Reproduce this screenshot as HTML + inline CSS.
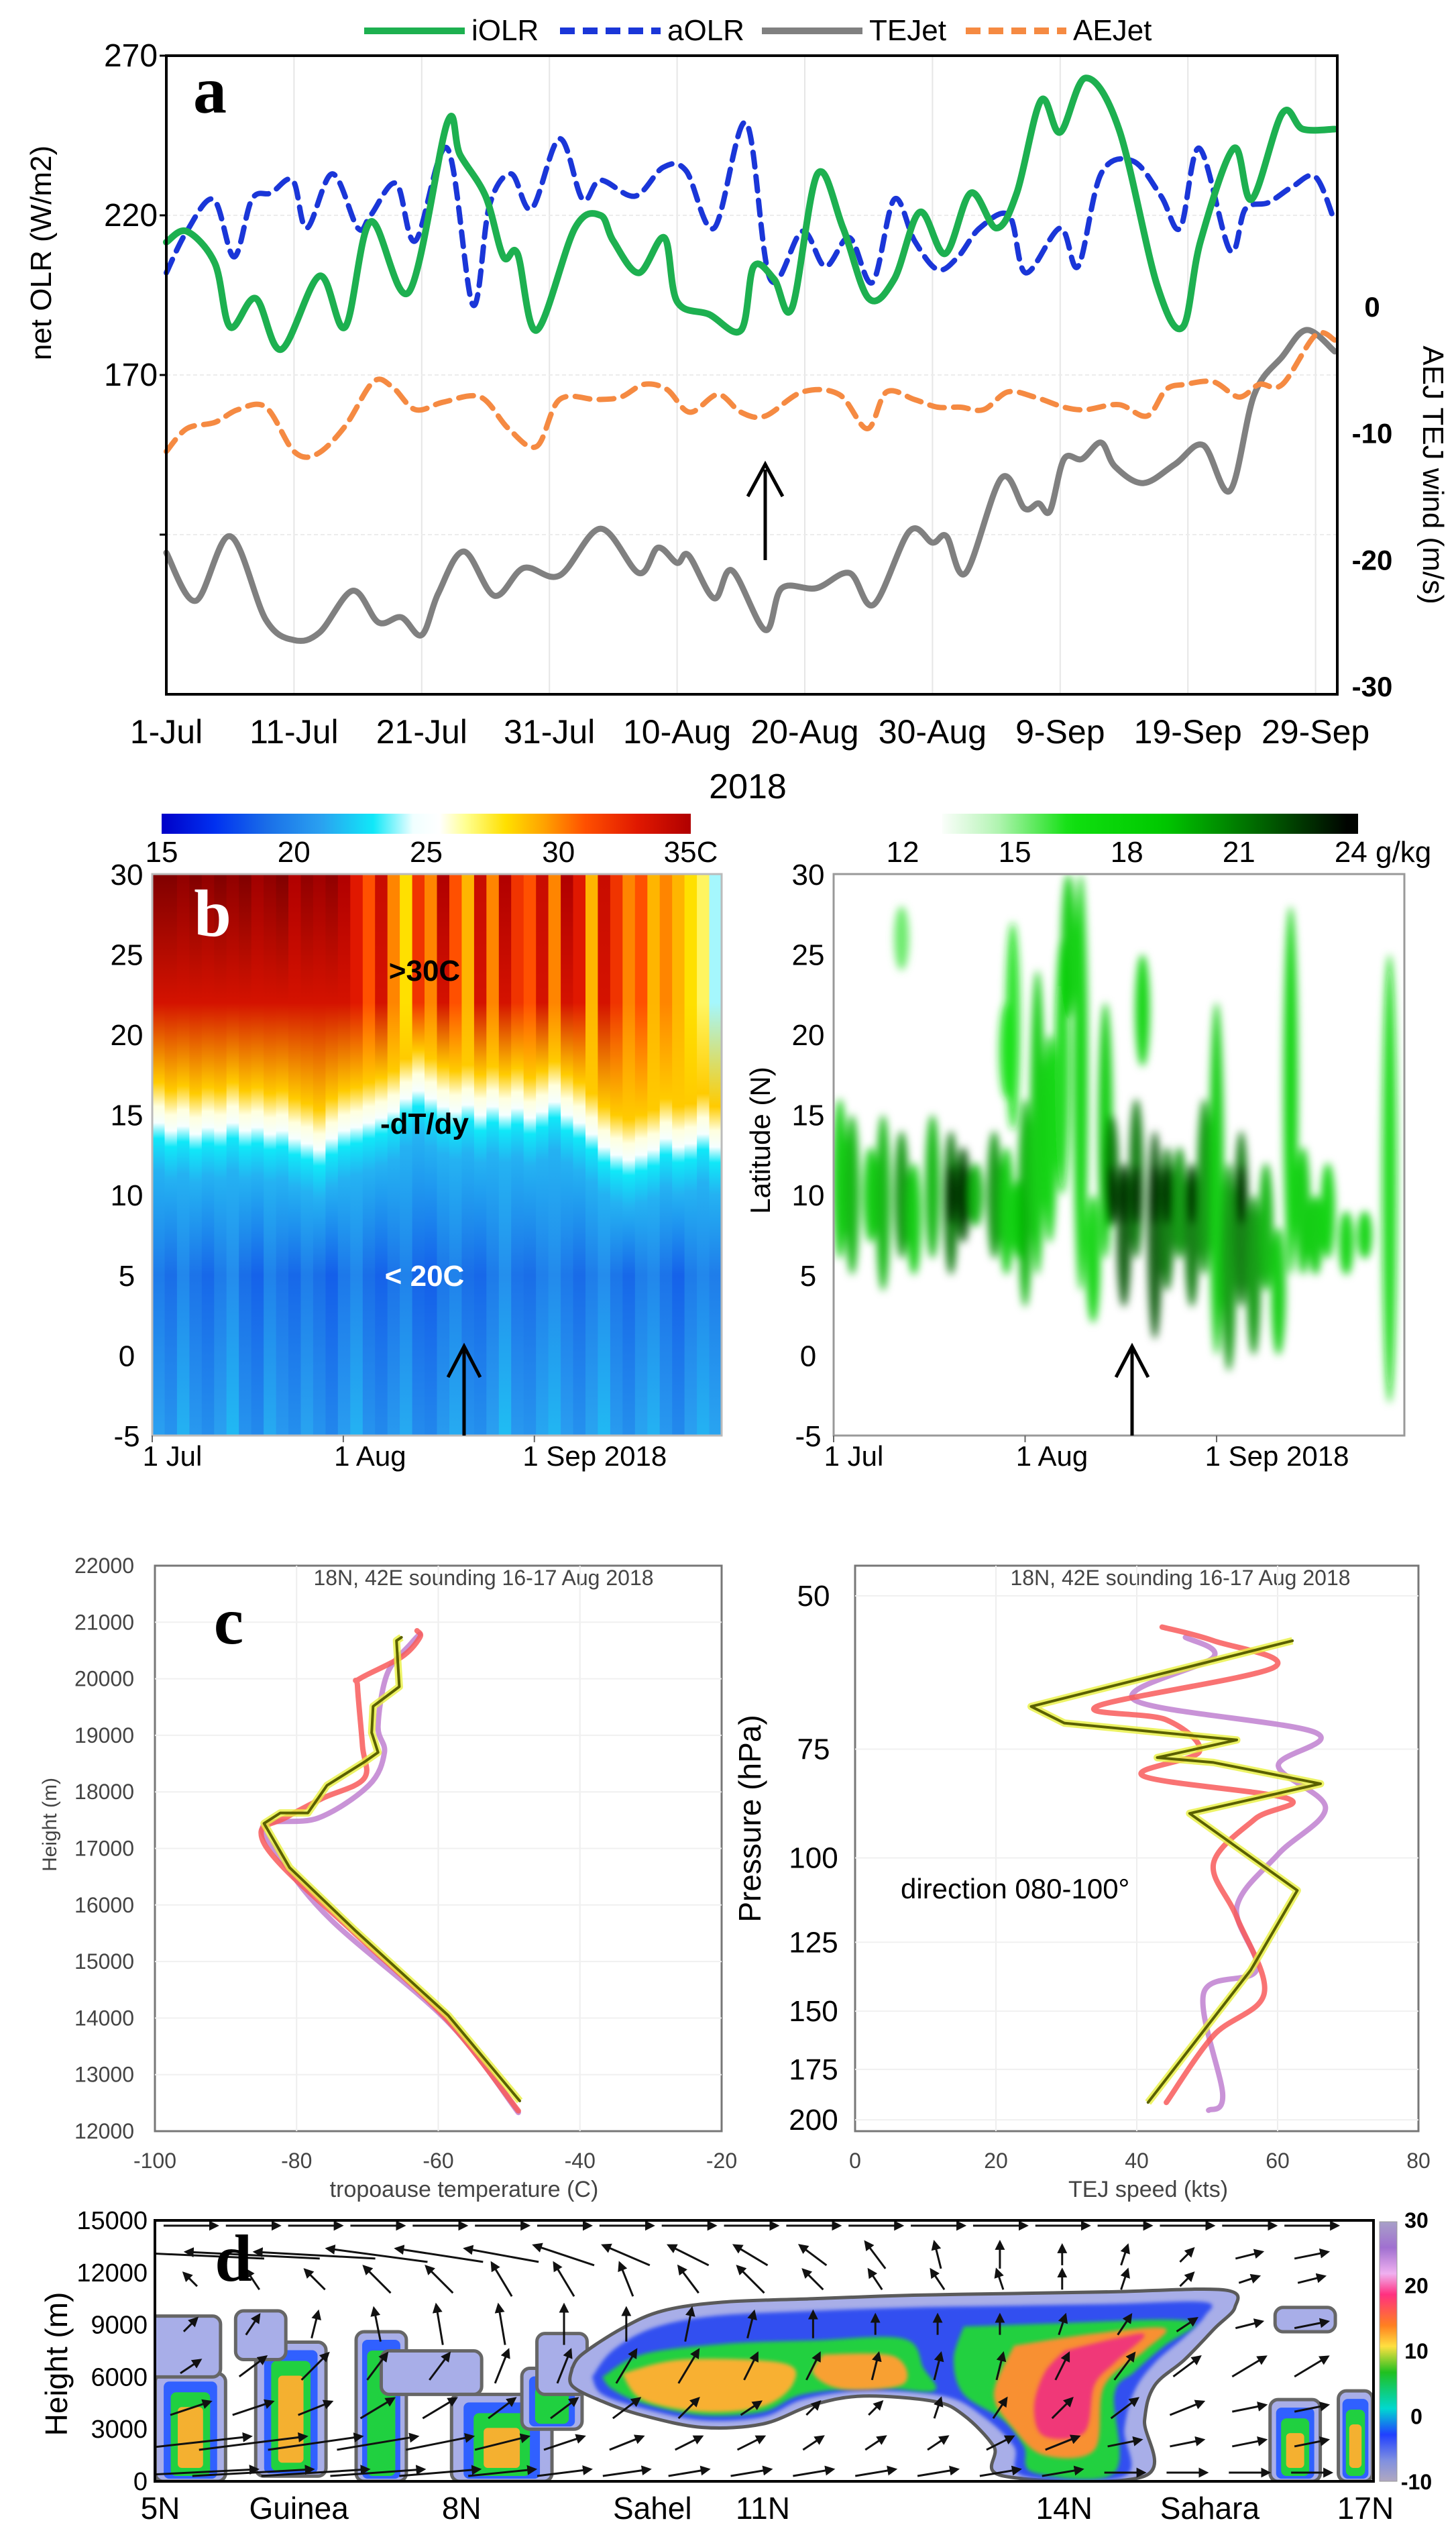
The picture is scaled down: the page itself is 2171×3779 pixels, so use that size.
<!DOCTYPE html>
<html><head><meta charset="utf-8">
<style>
html,body{margin:0;padding:0;background:#fff;}
svg{display:block;}
text{font-family:"Liberation Sans Narrow","Liberation Sans",sans-serif;}
</style></head>
<body>
<svg id="fig" xmlns="http://www.w3.org/2000/svg" width="2171" height="3779" viewBox="0 0 2171 3779">
<defs>
<filter id="blurG" x="-50%" y="-20%" width="200%" height="140%"><feGaussianBlur stdDeviation="6"/></filter>
<filter id="blurS" x="-20%" y="-20%" width="140%" height="140%"><feGaussianBlur stdDeviation="3"/></filter>
<marker id="ah" viewBox="0 0 10 10" refX="8" refY="5" markerWidth="5" markerHeight="5" orient="auto"><path d="M0,0 L10,5 L0,10 z" fill="#111"/></marker>
</defs>
</svg>
<script>
// ================= PANEL A DATA =================
const dateLabels = ['1-Jul','11-Jul','21-Jul','31-Jul','10-Aug','20-Aug','30-Aug','9-Sep','19-Sep','29-Sep'];
const dateDays = [0,10,20,30,40,50,60,70,80,90];
const leftTicks = [270,220,170,120];
const rightTicks = [0,-10,-20,-30];
const iolrDays = [0,1.6,3.8,5,7,9,12,14,16,19,22,23,25,26.4,27.5,29,32,34,35,37,39,40,42.5,45,46,47.6,49,51,53,55,57,59,61,63,65,66.6,68.5,70,72,74.6,77.6,79.6,81,83.6,85,87.4,89,91.5];
const iolrVals = [211.6,215,205,185,194,178,201,185,218,196,249,239,226,207,208,184,216,220,212,202,213,193,189,184,204,200,191,233,216,194,200,221,208,227,216,227,256,246,263,247,198,185,212,241,225,252,247,247];
const aolrDays = [0,1.6,3.7,5.3,6.7,8.2,9.9,11,13,15,16,18,19.5,22,24,25.3,27,28.6,30.8,32.6,34,36.7,38.9,40.7,42.9,45.4,47.3,49.8,51.6,53.5,55.3,57,58.6,60.4,62,63.7,66,67.3,70,71.4,73.2,75.7,77.9,79.4,80.9,83.3,84.5,86.3,88.2,90,91.5];
const aolrVals = [202,215,225,207,225,227,231,216,233,216,220,230,212,241,192,223,233,222,244,225,231,226,235,234,216,249,200,215,204,213,199,225,212,203,207,216,220,202,216,204,233,237,226,216,241,209,222,224,229,232,218];
const tejDays = [0,2.3,5,7.8,10,12,14.6,16.6,18.4,20,21.3,23.3,25.7,28,30.8,34,37,38.5,40,40.9,42.9,44.3,46.9,48.2,50.9,53.5,55.4,58.2,60,61.1,62.6,65.4,67.2,68.3,69.2,70.3,71.7,73.2,74.3,76.5,79,81.2,83.3,85.2,87.4,89.3,91.5];
const tejVals = [-19.5,-23.3,-18.2,-24.8,-26.4,-25.8,-22.5,-25,-24.6,-26,-22.7,-19.4,-22.9,-20.7,-21.3,-17.6,-21.1,-19.1,-20.3,-19.7,-23.1,-20.9,-25.6,-22.3,-22.3,-21.1,-23.6,-17.8,-18.7,-18.2,-21.1,-13.6,-16,-15.6,-16.2,-12.1,-12.1,-10.8,-12.7,-14,-12.5,-11,-14.6,-7,-4,-1.9,-3.6];
const aejDays = [0,1.6,3.8,5.6,7.8,10,11.8,14,16.2,17.7,19.5,21.7,24.6,26.8,29,30.8,33.7,35.6,37.4,39.2,41,43.2,45,46.9,49.8,52.7,54.9,56.4,58.6,60.4,62.2,64,65.9,68,70.3,72,74.6,76.8,78.3,79.8,82,84,85.6,87.4,90,91.5];
const aejVals = [-11.5,-9.7,-9.2,-8.2,-8,-11.5,-11.7,-9.5,-6,-6.4,-8.2,-7.6,-7.2,-9.7,-11.1,-7.4,-7.4,-7.2,-6.2,-6.6,-8.4,-7,-8.4,-8.7,-6.8,-7,-9.7,-6.8,-7.4,-8,-8,-8.2,-6.8,-7.2,-8,-8.2,-7.8,-8.7,-6.6,-6.2,-6,-7.2,-6.2,-6.2,-2.3,-2.7];

// ================= PANEL B DATA =================
const tempTicks = [15,20,25,30,35];
const qTicks = [12,15,18,21,24];
const latTicks = [30,25,20,15,10,5,0,-5];
const monthLabels = ['1 Jul','1 Aug','1 Sep 2018'];
const monthDays = [0,31,62];
const colTrans = [14.5,14,14.3,13.8,14.2,14,14.5,14,14.2,13.8,14,13.5,13.2,12.8,13.5,14,14.2,14.5,14.8,15.2,16,16.5,16,15.5,15.2,15.6,15,15.5,15,15.4,14.8,15.2,15.8,15,14.5,13.8,13,12.5,12.2,12.5,12.8,13.5,13,13.2,13.8,13];
const colTopT = [36.5,36.5,36,36.5,36,36.5,36,36.5,35.5,36,36.5,35,36,35.5,36,35,33,31,34,30,28,32,30,35,31,29,34,30,35,32,31,34,30,35,33,29,34,32,30,31,29,30,29,28,27,24];
const colLowT = [19.5,19,20,19.2,18.8,19.5,20.2,19,18.6,19.8,19.2,18.8,19.6,19,18.5,19.4,20,19,18.6,19.2,19.8,18.7,18.5,19.3,19.8,19,18.8,19.5,20.3,19.2,19,19.7,20.1,19.4,18.9,19.6,20.2,19.3,18.8,19.6,20,19.2,18.6,19.5,20,19.6];
const qDays = [1,3,6,8,11,13,16,19,21,23,26,28,30,28,29,31,33,35,37,38,40,42,44,45,47,49,50,52,54,56,58,60,62,64,66,68,70,72,74,76,78,80,83,86,90,11];
const qLo = [6,5,7,4,6,5,6,5,7,8,6,5,6,16,14,3,5,7,10,21,4,2,6,8,3,6,18,1,4,6,3,5,0,-1,3,0,4,0,5,5,5,6,5,6,-3,24];
const qHi = [16,15,13,15,14,12,15,14,13,12,14,13,11,22,27,16,24,20,26,30,30,10,22,15,12,16,25,14,13,13,12,16,22,12,14,10,12,8,28,13,10,12,9,9,25,28];
const qInt = [0.6,0.7,0.6,0.7,0.8,0.6,0.7,0.9,1.0,0.7,0.8,0.6,0.5,0.3,0.3,0.7,0.6,0.5,0.4,0.6,0.5,0.5,0.6,0.9,1.0,0.9,0.5,1.0,0.9,0.8,0.9,0.8,0.6,0.8,0.9,0.8,0.7,0.6,0.5,0.6,0.6,0.5,0.5,0.5,0.4,0.2];

// ================= PANEL C DATA =================
const hTicks = [22000,21000,20000,19000,18000,17000,16000,15000,14000,13000,12000];
const tTicks = [-100,-80,-60,-40,-20];
const pTicks = [50,75,100,125,150,175,200];
const sTicks = [0,20,40,60,80];
const oliveT = [-48.5,-58.6,-71.8,-81,-84.6,-82.3,-78.4,-75.7,-70.5,-68.5,-69.4,-69.2,-65.5,-65.9,-65.2];
const oliveH = [12535,14047,15558,16663,17442,17628,17628,18116,18523,18698,19047,19512,19860,20674,20733];
const redT = [-48.7,-58.9,-71.8,-82.3,-85,-81.7,-76.4,-70.5,-70.7,-71.4,-71.1,-65.2,-62.6,-63];
const redH = [12360,13990,15500,16720,17300,17535,17884,18233,18814,19860,20000,20384,20733,20849];
const pinkT = [-48.7,-58.6,-75.1,-82.3,-84.6,-77,-69.8,-67.6,-68.5,-67.2,-63.9,-62.6];
const pinkH = [12330,13930,15733,16837,17420,17535,18116,18698,19163,20093,20616,20790];
const oliveS = [62.1,25,29.7,54.2,42.9,50.9,66.1,47.5,62.8,56.2,41.6];
const oliveP = [56.3,67,70,73.2,76.7,77.7,82.2,88.9,109,134.5,191];
const redS = [43.6,50.9,59.5,34.3,44.2,48.9,40.9,61.5,56.8,50.9,54.2,58.1,50.9,44.2];
const redP = [54.3,56.3,60.4,67,69.4,75.5,80.5,85.5,90.2,101.5,117,143,160,191];
const pinkS = [46.9,50.9,39.6,65.4,60.1,66.8,60.1,54.2,57,49.5,52.2,50.2];
const pinkP = [55.8,58.8,65.8,71.8,78.4,87.6,99,114,134.5,143,187,195];

// ================= PANEL D DATA =================
const dHTicks = [15000,12000,9000,6000,3000,0];
const dXLabels = ['5N','Guinea','8N','Sahel','11N','14N','Sahara','17N'];
const dXLats = [5,6.38,8,9.9,11,14,15.45,17];
const dCbTicks = [30,20,10,0,-10];
const arrowRowsH = [14700,13000,11600,9000,6600,4200,2200,500];
const arrowU = [
 [8,8,8,8,8,8,8,8,8,8,8,8,8,8,8,8,8,8,8],
 [-22,-20,-18,-15,-13,-11,-9,-7,-6,-5,-4,-3,-1,0,0,1,2,4,5],
 [-2,-2,-3,-4,-4,-3,-3,-2,-3,-4,-3,-2,-2,-1,0,1,2,3,4],
 [2,2,1,-1,-1,-1,0,0,1,1,0,0,0,0,1,2,3,4,5],
 [3,4,4,3,3,2,2,3,3,2,2,1,1,1,2,3,4,5,5],
 [6,6,5,5,5,4,4,4,3,3,2,2,1,2,3,4,5,5,5],
 [18,16,14,12,10,8,6,5,4,4,3,3,3,4,5,5,5,5,5],
 [20,18,16,14,12,10,8,7,6,6,6,6,6,6,6,6,6,6,6]];
const arrowW = [
 [0,0,0,0,0,0,0,0,0,0,0,0,0,0,0,0,0,0,0],
 [1,1,1,2,2,2,3,3,3,3,3,4,4,4,3,3,2,1,1],
 [2,3,3,4,4,5,5,5,4,4,3,3,3,3,3,3,2,1,1],
 [2,3,4,5,6,6,6,5,5,4,4,3,3,3,3,3,2,1,1],
 [2,3,4,4,4,5,5,5,5,4,4,4,4,4,4,4,3,3,3],
 [2,2,2,3,3,3,3,3,3,2,2,2,3,3,3,3,2,1,1],
 [2,2,2,2,2,2,2,2,2,2,2,2,2,2,2,1,1,1,1],
 [1,1,1,1,1,1,1,1,1,1,1,1,1,1,1,0,0,0,0]];
const cloudOuter = [[9.1,6500],[9.2,7300],[9.6,8800],[10,9800],[10.6,10300],[11.5,10500],[12.5,10700],[13.5,10800],[14.5,10900],[15.6,11000],[15.7,10000],[15.5,8800],[15.2,7000],[14.9,5500],[14.8,3500],[14.8,300],[13.4,300],[13.3,2000],[13.0,3800],[12.7,4600],[12.0,4900],[11.5,4400],[11.0,3300],[10.4,3100],[9.8,3800],[9.4,4600],[9.1,5500]];
const cloudBlue = [[9.3,6000],[9.5,7500],[9.9,8800],[10.5,9500],[11.5,9800],[12.5,10000],[13.5,10100],[14.5,10200],[15.4,10300],[15.4,9500],[15.2,8300],[14.9,6800],[14.7,5200],[14.6,3000],[14.6,300],[13.6,300],[13.5,2000],[13.2,3700],[12.8,4900],[12,5200],[11.4,4700],[11,3700],[10.4,3500],[9.8,4200],[9.4,5000]];
const cloudGreenA = [[9.4,6000],[9.8,7300],[10.6,7900],[11.5,8100],[12.4,8200],[12.6,6500],[12.7,5200],[12.1,5400],[11.4,5000],[11,4000],[10.4,3800],[9.8,4500],[9.5,5300]];
const cloudGreenB = [[13.0,8900],[14,9100],[15,9300],[15.3,9000],[15,7800],[14.7,6300],[14.5,5000],[14.5,500],[13.7,500],[13.6,2000],[13.4,3500],[13.0,5000],[12.9,7000]];
const cloudOrangeA = [[9.6,6200],[10.2,7000],[11.2,6800],[11.3,5600],[11,4300],[10.4,4000],[9.8,4700]];
const cloudOrangeA2 = [[11.6,7300],[12.3,7200],[12.4,5600],[11.8,5300],[11.5,6200]];
const cloudOrangeB = [[13.5,7800],[14.3,8500],[15.0,8800],[14.8,7500],[14.4,5500],[14.3,1800],[13.8,1500],[13.5,3000],[13.3,5000]];
const cloudPinkB = [[14,7500],[14.5,8200],[14.8,8400],[14.5,6800],[14.3,5500],[14.2,2800],[13.8,2600],[13.7,4200],[13.8,6200]];
const cellLat = [5.3,5.1,6.3,6.0,7.2,7.7,8.4,8.9,9.0,16.3,16.9,16.4];
const cellHalf = [0.35,0.5,0.35,0.25,0.25,0.5,0.5,0.3,0.25,0.25,0.17,0.3];
const cellBot = [0,6000,300,7000,0,5000,0,3000,5000,0,0,8600];
const cellTop = [6200,9500,8000,9800,8600,7500,5000,6500,8500,4700,5200,10000];
const cellLvl = [0.8,0.15,0.9,0.2,0.6,0.2,0.9,0.5,0.2,0.7,0.8,0.15];

// ================= HELPERS =================
const svg = document.getElementById('fig');
const NS = 'http://www.w3.org/2000/svg';
function mk(tag, parent){ const e=document.createElementNS(NS,tag); (parent||svg).appendChild(e); return e; }
function set(e, obj){ for(const k in obj) e.setAttribute(k,obj[k]); return e; }
function txt(parent, s, x, y, size, opts){
  const t = mk('text', parent);
  set(t,{x:x,y:y,'font-size':size,'text-anchor':(opts&&opts.anchor)||'middle','fill':(opts&&opts.fill)||'#000'});
  if(opts&&opts.weight) t.setAttribute('font-weight',opts.weight);
  if(opts&&opts.family) t.setAttribute('style','font-family:'+opts.family);
  if(opts&&opts.rot) t.setAttribute('transform','rotate('+opts.rot+' '+x+' '+y+')');
  t.textContent = s; return t;
}
function smooth(pts){
  let d='M'+pts[0][0].toFixed(1)+','+pts[0][1].toFixed(1);
  for(let i=0;i<pts.length-1;i++){
    const p0=pts[Math.max(0,i-1)],p1=pts[i],p2=pts[i+1],p3=pts[Math.min(pts.length-1,i+2)];
    const c1=[p1[0]+(p2[0]-p0[0])/6,p1[1]+(p2[1]-p0[1])/6];
    const c2=[p2[0]-(p3[0]-p1[0])/6,p2[1]-(p3[1]-p1[1])/6];
    d+=' C'+c1[0].toFixed(1)+','+c1[1].toFixed(1)+' '+c2[0].toFixed(1)+','+c2[1].toFixed(1)+' '+p2[0].toFixed(1)+','+p2[1].toFixed(1);
  }
  return d;
}
function hex(c){return [parseInt(c.substr(1,2),16),parseInt(c.substr(3,2),16),parseInt(c.substr(5,2),16)];}
function interp(stops,v){
  if(v<=stops[0][0]) return stops[0][1];
  for(let i=0;i<stops.length-1;i++){
    if(v<=stops[i+1][0]){
      const f=(v-stops[i][0])/(stops[i+1][0]-stops[i][0]);
      const a=hex(stops[i][1]),b=hex(stops[i+1][1]);
      return 'rgb('+a.map((x,j)=>Math.round(x+(b[j]-x)*f)).join(',')+')';
    }
  }
  return stops[stops.length-1][1];
}
const tStops=[[15,'#0000c8'],[17,'#0030f0'],[19,'#1a6ee8'],[21,'#2aa0f0'],[23,'#10e8f8'],[24.5,'#f0ffff'],[25.5,'#ffffff'],[26.5,'#ffff90'],[28,'#ffe000'],[29.5,'#ffa000'],[31,'#ff5000'],[33,'#e01800'],[35,'#b00000'],[36.5,'#800000']];
const qStops=[[13,'#ffffff'],[14.5,'#b8f5b8'],[16.5,'#10e010'],[19,'#00c800'],[21.5,'#006800'],[24,'#000000']];

// ================= PANEL A =================
const gA = mk('g');  
const xA = d => 248 + d*19.04;
const yL = v => 83 + (270-v)*4.76;
const yR = v => 456 - v*18.87;
dateDays.forEach((d,i)=>{
  const l=set(mk('line',gA),{x1:xA(d),x2:xA(d),y1:83,y2:1035,stroke:'#e6e6e6','stroke-width':2});
   
  const t=txt(gA,dateLabels[i],xA(d),1108,50);
   
});
leftTicks.forEach(v=>{
  const l=set(mk('line',gA),{x1:248,x2:1994,y1:yL(v),y2:yL(v),stroke:'#ececec','stroke-width':2,'stroke-dasharray':'6,4'});
   
  const tk=set(mk('line',gA),{x1:238,x2:248,y1:yL(v),y2:yL(v),stroke:'#000','stroke-width':3});
   
  if(v!==120){ const t=txt(gA,String(v),195,yL(v)+16,48);   }
});
rightTicks.forEach(v=>{
  const t=txt(gA,String(v),2046,yR(v)+16,42,{weight:'bold'});
   
});
function series(days,vals,scale,color,w,dash,name){
  const p=set(mk('path',gA),{d:smooth(days.map((d,i)=>[xA(d),scale(vals[i])])),fill:'none',stroke:color,'stroke-width':w,'stroke-linejoin':'round','stroke-linecap':'round'});
  if(dash) p.setAttribute('stroke-dasharray',dash);
   
}
series(tejDays,tejVals,yR,'#808080',9,null,'tejet-line');
series(aejDays,aejVals,yR,'#f58a42',8,'22,14','aejet-line');
series(aolrDays,aolrVals,yL,'#1a36d8',8,'22,14','aolr-line');
series(iolrDays,iolrVals,yL,'#1db050',10,null,'iolr-line');
const frA=set(mk('rect',gA),{x:248,y:83,width:1746,height:952,fill:'none',stroke:'#000','stroke-width':4});
 
const arA=set(mk('line',gA),{x1:1141,y1:835,x2:1141,y2:700,stroke:'#000','stroke-width':5});
 
const arAh=set(mk('path',gA),{d:'M1115,740 L1141,692 L1167,740',fill:'none',stroke:'#000','stroke-width':5});
 
const la=txt(gA,'a',313,168,100,{weight:'bold',family:'"Liberation Serif",serif'});
 
const ytA=txt(gA,'net OLR (W/m2)',76,377,44,{rot:-90,family:'"Liberation Sans",sans-serif'});
 
const ytR=txt(gA,'AEJ   TEJ wind  (m/s)',2122,708,44,{rot:90,family:'"Liberation Sans",sans-serif'});
 
const yr=txt(gA,'2018',1115,1190,52);
 
const legNames=['iOLR','aOLR','TEJet','AEJet'];
const legColors=['#1db050','#1a36d8','#808080','#f58a42'];
const legX=[543,835,1136,1440];
legNames.forEach((n,i)=>{
  const g=mk('g',gA);  
  const l=set(mk('line',g),{x1:legX[i],x2:legX[i]+150,y1:46,y2:46,stroke:legColors[i],'stroke-width':10});
  if(i%2===1) l.setAttribute('stroke-dasharray','22,12');
  txt(g,n,legX[i]+160,60,44,{anchor:'start'});
});

// ================= PANEL B =================
const gB = mk('g');  
const xB1 = d => 227 + d*9.19;
const xB2 = d => 1243 + d*9.21;
const yB = lat => 1303 + (30-lat)*23.91;
const defs = svg.querySelector('defs');
const cbg=set(mk('linearGradient',defs),{id:'cbT',x1:0,x2:1,y1:0,y2:0});
for(let t=15;t<=35;t+=0.5){ set(mk('stop',cbg),{offset:((t-15)/20).toFixed(3),'stop-color':interp(tStops,t)}); }
const cbT=set(mk('rect',gB),{x:241,y:1213,width:789,height:30,fill:'url(#cbT)'});
 
tempTicks.forEach(t=>{ const s=txt(gB,t===35?'35C':String(t),241+(t-15)/20*789,1285,44);   });
const cbq=set(mk('linearGradient',defs),{id:'cbQ',x1:0,x2:1,y1:0,y2:0});
for(let q=13.1;q<=24.2;q+=0.3){ set(mk('stop',cbq),{offset:((q-13.1)/11.1).toFixed(3),'stop-color':interp(qStops,q)}); }
const cbQ=set(mk('rect',gB),{x:1405,y:1213,width:620,height:30,fill:'url(#cbQ)'});
 
qTicks.forEach(q=>{ const s=txt(gB,q===24?'24 g/kg':String(q),q===24?2062:1346+(q-12)*55.7,1285,44);   });
const colW = 849/colTrans.length;
colTrans.forEach((tr,i)=>{
  const gid='hc'+i;
  const lg=set(mk('linearGradient',defs),{id:gid,x1:0,x2:0,y1:0,y2:1});
  const midLat=Math.max(22,tr+4);
  const prof=[[30,colTopT[i]],[midLat,Math.min(colTopT[i],33.5)],[tr+2.5,28.5],[tr+1,25.8],[tr,24.8],[tr-1,23],[tr-3,21.5],[5,colLowT[i]],[-5,colLowT[i]+1.5]];
  prof.forEach(p=>{ set(mk('stop',lg),{offset:((30-p[0])/35).toFixed(3),'stop-color':interp(tStops,p[1])}); });
  const r=set(mk('rect',gB),{x:(227+i*colW).toFixed(1),y:1303,width:(colW+0.8).toFixed(1),height:837,fill:'url(#'+gid+')'});
   
});
const gQ=mk('g',gB);  
const clip=set(mk('clipPath',defs),{id:'clipQ'}); set(mk('rect',clip),{x:1243,y:1303,width:851,height:837});
gQ.setAttribute('clip-path','url(#clipQ)');
const gQb=mk('g',gQ); gQb.setAttribute('filter','url(#blurG)');
qDays.forEach((d,i)=>{
  const c=interp(qStops,14+qInt[i]*8);
  const e=set(mk('ellipse',gQb),{cx:xB2(d),cy:(yB(qLo[i])+yB(qHi[i]))/2,rx:11,ry:(yB(qLo[i])-yB(qHi[i]))/2,fill:c,opacity:0.9});
   
  if(qInt[i]>=0.9){
    const k=set(mk('ellipse',gQb),{cx:xB2(d),cy:yB(10),rx:7,ry:45,fill:'#062806'});
     
  }
});
[[227,1076],[1243,2094]].forEach((lr,k)=>{
  const f=set(mk('rect',gB),{x:lr[0],y:1303,width:lr[1]-lr[0],height:837,fill:'none',stroke:k?'#999':'#bbb','stroke-width':3});
   
  latTicks.forEach(l=>{ const s=txt(gB,String(l),lr[0]-38,yB(l)+16,44);   });
  monthDays.forEach((d,j)=>{
    const x=k?xB2(d):xB1(d);
    set(mk('line',gB),{x1:x,x2:x,y1:2140,y2:2150,stroke:'#666','stroke-width':2});
    const s=txt(gB,monthLabels[j],x+(j===2?90:j===0?30:40),2185,42);  
  });
  const ah=set(mk('path',gB),{d:'M'+(k?1688:692)+',2140 L'+(k?1688:692)+',2010 M'+((k?1688:692)-24)+',2053 L'+(k?1688:692)+',2007 L'+((k?1688:692)+24)+',2053',fill:'none',stroke:'#000','stroke-width':5});
   
});
const lb=txt(gB,'b',317,1395,100,{weight:'bold',family:'"Liberation Serif",serif',fill:'#fff'});
 
const a1=txt(gB,'>30C',633,1462,44,{weight:'bold'});  
const a2=txt(gB,'-dT/dy',633,1690,44,{weight:'bold'});  
const a3=txt(gB,'< 20C',633,1917,44,{weight:'bold',fill:'#fff'});  
const lt=txt(gB,'Latitude (N)',1148,1700,42,{rot:-90,family:'"Liberation Sans",sans-serif'});
 

// ================= PANEL C =================
const gC = mk('g');  
const xC1 = t => 231 + (t+100)*10.5625;
const yC1 = h => 3177 - (h-12000)*0.0843;
const xC2 = s => 1275 + s*10.5;
const yC2 = p => 2379 + Math.log(p/50)*563.5;
[[231,1076],[1275,2115]].forEach((lr,k)=>{
  const f=set(mk('rect',gC),{x:lr[0],y:2334,width:lr[1]-lr[0],height:843,fill:'none',stroke:'#777','stroke-width':3});
   
  const t=txt(gC,'18N, 42E sounding 16-17 Aug 2018',k?1760:721,2363,32,{fill:'#444'});
   
});
tTicks.forEach(t=>{
  if(t>-100&&t<-20) set(mk('line',gC),{x1:xC1(t),x2:xC1(t),y1:2334,y2:3177,stroke:'#eee','stroke-width':2});
  const s=txt(gC,String(t),xC1(t),3232,32,{fill:'#444'});  
});
hTicks.forEach(h=>{
  if(h>12000&&h<22000) set(mk('line',gC),{x1:231,x2:1076,y1:yC1(h),y2:yC1(h),stroke:'#f0f0f0','stroke-width':2});
  const s=txt(gC,String(h),200,yC1(h)+11,32,{anchor:'end',fill:'#444'});  
});
sTicks.forEach(s0=>{
  if(s0>0&&s0<80) set(mk('line',gC),{x1:xC2(s0),x2:xC2(s0),y1:2334,y2:3177,stroke:'#eee','stroke-width':2});
  const s=txt(gC,String(s0),xC2(s0),3232,32,{fill:'#444'});  
});
pTicks.forEach(p=>{
  set(mk('line',gC),{x1:1275,x2:2115,y1:yC2(p),y2:yC2(p),stroke:'#f0f0f0','stroke-width':2});
  const s=txt(gC,String(p),1213,yC2(p)+15,44,{family:'"Liberation Sans",sans-serif'});  
});
function prof(xs,ys,fx,fy,color,name,glow){
  const pts=xs.map((x,i)=>[fx(x),fy(ys[i])]);
  let d='M'+pts.map(p=>p[0].toFixed(1)+','+p[1].toFixed(1)).join(' L');
  if(glow){ const g=set(mk('path',gC),{d:d,fill:'none',stroke:'#e8f040','stroke-width':11,'stroke-linejoin':'round',opacity:0.8});   }
  const p=set(mk('path',gC),{d:glow?d:smooth(pts),fill:'none',stroke:color,'stroke-width':glow?4:8,'stroke-linejoin':'round','stroke-linecap':'round',opacity:glow?1:0.85});
   
}
prof(pinkT,pinkH,xC1,yC1,'#c080d0','temp-profile-violet');
prof(redT,redH,xC1,yC1,'#f85a5a','temp-profile-red');
prof(oliveT,oliveH,xC1,yC1,'#5a6000','temp-profile-olive',true);
prof(pinkS,pinkP,xC2,yC2,'#c080d0','wind-profile-violet');
prof(redS,redP,xC2,yC2,'#f85a5a','wind-profile-red');
prof(oliveS,oliveP,xC2,yC2,'#5a6000','wind-profile-olive',true);
const lc=txt(gC,'c',341,2450,100,{weight:'bold',family:'"Liberation Serif",serif'});  
const xt1=txt(gC,'tropoause temperature (C)',692,3275,34,{fill:'#444'});  
const yt1=txt(gC,'Height (m)',84,2720,30,{rot:-90,fill:'#444'});  
const xt2=txt(gC,'TEJ speed (kts)',1712,3275,34,{fill:'#444'});  
const yt2=txt(gC,'Pressure (hPa)',1134,2711,46,{rot:-90,family:'"Liberation Sans",sans-serif'});  
const dir=txt(gC,'direction 080-100°',1343,2830,42,{anchor:'start'});  

// ================= PANEL D =================
const gD = mk('g');  
const xD = lat => 239 + (lat-5)*149.75;
const yD = h => 3699 - h*0.02593;
const clipD=set(mk('clipPath',defs),{id:'clipD'}); set(mk('rect',clipD),{x:231,y:3310,width:1817,height:389});
const gCl=mk('g',gD); gCl.setAttribute('clip-path','url(#clipD)');
 
function poly(pts,fill,name,stroke){
  const p=set(mk('path',gCl),{d:smooth(pts.concat([pts[0]]).map(q=>[xD(q[0]),yD(q[1])]))+'Z',fill:fill});
  if(stroke){ p.setAttribute('stroke',stroke); p.setAttribute('stroke-width',5); }
  else p.setAttribute('filter','url(#blurS)');
   
}
cellLat.forEach((lat,i)=>{
  const x0=xD(lat-cellHalf[i]), x1=xD(lat+cellHalf[i]), y0=yD(cellTop[i]), y1=yD(cellBot[i]);
  const o=set(mk('rect',gCl),{x:x0,y:y0,width:x1-x0,height:y1-y0,rx:12,fill:'#a8aee8',stroke:'#666','stroke-width':5});
   
  const lv=cellLvl[i];
  if(lv>0.4){
    const w=(x1-x0);
    const b=set(mk('rect',gCl),{x:x0+w*0.12,y:y0+12,width:w*0.76,height:y1-y0-16,rx:8,fill:'#3060ff'});  
    const g=set(mk('rect',gCl),{x:x0+w*0.22,y:y0+28,width:w*0.56,height:y1-y0-36,rx:8,fill:'#20d040'});  
    if(lv>0.65){ const yv=set(mk('rect',gCl),{x:x0+w*0.32,y:y0+50,width:w*0.36,height:Math.max(10,y1-y0-70),rx:6,fill:'#f4b030'});   }
  }
});
poly(cloudOuter,'#a8aee8','anvil-outline','#5a5a5a');
poly(cloudBlue,'#3050f0','anvil-blue');
poly(cloudGreenA,'#20d040','anvil-green');
poly(cloudGreenB,'#20d040','column-green');
poly(cloudOrangeA,'#f8b030','anvil-orange');
poly(cloudOrangeA2,'#f8a030','anvil-orange-2');
poly(cloudOrangeB,'#f89030','column-orange');
poly(cloudPinkB,'#f03878','column-pink');
const gAr=mk('g',gD); gAr.setAttribute('clip-path','url(#clipD)');
 
arrowRowsH.forEach((h,r)=>{
  arrowU[r].forEach((u,c)=>{
    const lat=5.3+0.62*c;
    const x=xD(lat), y=yD(h), dx=u*10, dy=-arrowW[r][c]*10;
    const a=set(mk('line',gAr),{x1:x-dx/2,y1:y-dy/2,x2:x+dx/2,y2:y+dy/2,stroke:'#111','stroke-width':3,'marker-end':'url(#ah)'});
     
  });
});
const frD=set(mk('rect',gD),{x:231,y:3310,width:1817,height:389,fill:'none',stroke:'#000','stroke-width':4});
 
dHTicks.forEach(h=>{ const s=txt(gD,String(h),220,yD(h)+13,38,{anchor:'end'});   });
dXLabels.forEach((l,i)=>{ const s=txt(gD,l,xD(dXLats[i]),3755,46);   });
const cbd=set(mk('linearGradient',defs),{id:'cbD',x1:0,x2:0,y1:0,y2:1});
[[0,'#a8a0c8'],[0.1,'#a070d0'],[0.2,'#f0b0f0'],[0.28,'#ff3080'],[0.4,'#ff8020'],[0.48,'#ffe040'],[0.58,'#20c020'],[0.72,'#00d8d0'],[0.82,'#2040ff'],[0.92,'#8090e0'],[1,'#b0a8c0']].forEach(s=>{ set(mk('stop',cbd),{offset:s[0],'stop-color':s[1]}); });
const cbD=set(mk('rect',gD),{x:2057,y:3312,width:26,height:387,fill:'url(#cbD)',stroke:'#999','stroke-width':1});
 
dCbTicks.forEach(v=>{ const s=txt(gD,String(v),2112,3310+(30-v)/40*390+11,32,{weight:'bold'});   });
const ld=txt(gD,'d',348,3400,100,{weight:'bold',family:'"Liberation Serif",serif'});  
const ytD=txt(gD,'Height (m)',100,3524,46,{rot:-90,family:'"Liberation Sans",sans-serif'});  
</script>
</body></html>
